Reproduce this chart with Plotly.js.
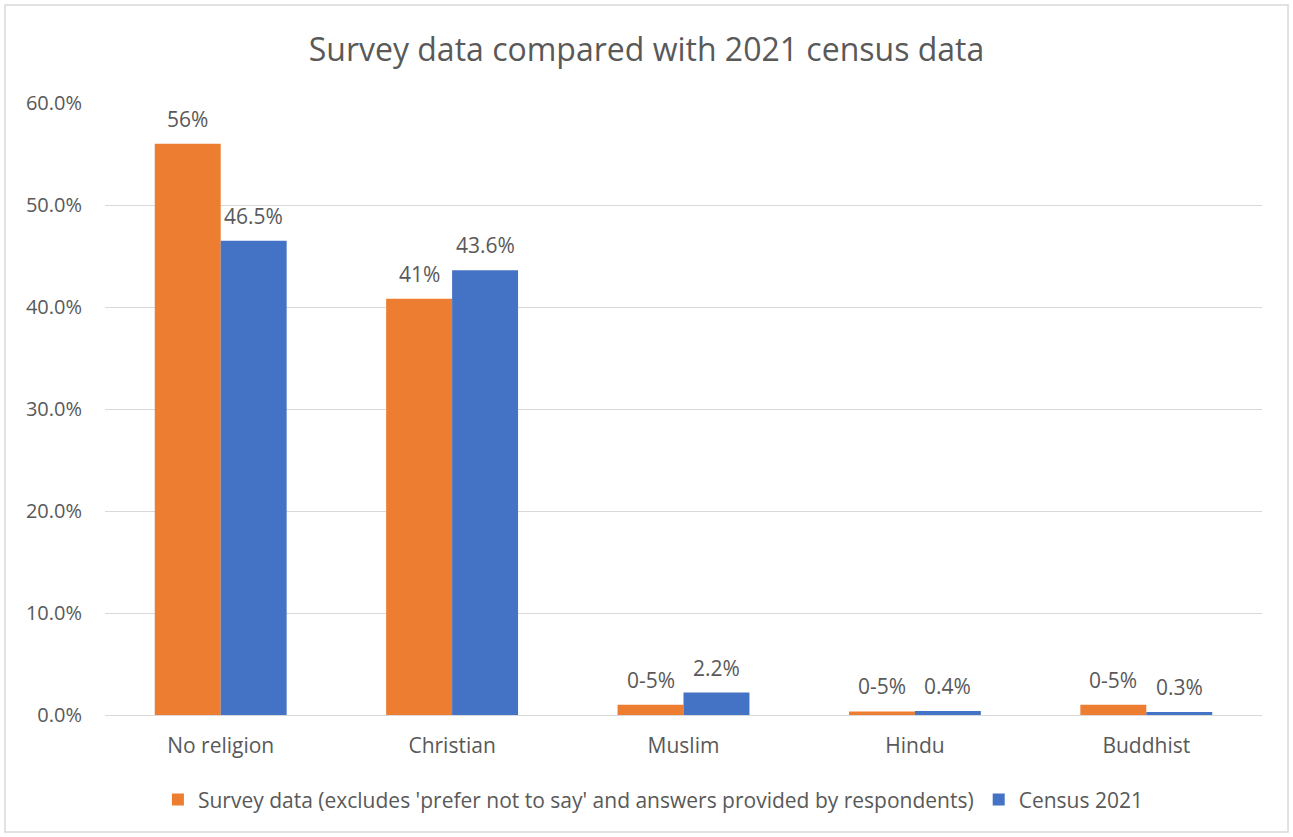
<!DOCTYPE html>
<html><head><meta charset="utf-8">
<script src="https://cdn.plot.ly/plotly-3.0.1.min.js"></script>
<style>html,body{margin:0;padding:0;background:#fff}#chart{width:1293px;height:837px}</style>
</head><body><div id="chart"></div>
<script>
const categories = ["No religion", "Christian", "Muslim", "Hindu", "Buddhist"];
const surveyValues = [56, 40.8, 1.0, 0.35, 1.0];
const surveyLabels = ["56%", "41%", "0-5%", "0-5%", "0-5%"];
const censusValues = [46.5, 43.6, 2.2, 0.4, 0.3];
const censusLabels = ["46.5%", "43.6%", "2.2%", "0.4%", "0.3%"];
const seriesNames = ["Survey data (excludes 'prefer not to say' and answers provided by respondents)", "Census 2021"];
const yTicks = [0, 10, 20, 30, 40, 50, 60];
const yTickText = ["0.0%", "10.0%", "20.0%", "30.0%", "40.0%", "50.0%", "60.0%"];

const FONT = "'Open Sans', sans-serif";
const GREY = "#595959";
const colors = ["#ED7D31", "#4472C4"];

const traces = [
  {type: "bar", x: categories, y: surveyValues, name: seriesNames[0], marker: {color: colors[0]}, hoverinfo: "x+y"},
  {type: "bar", x: categories, y: censusValues, name: seriesNames[1], marker: {color: colors[1]}, hoverinfo: "x+y"}
];

const annotations = [];
[[surveyValues, surveyLabels, -33], [censusValues, censusLabels, 33]].forEach(([vals, labs, dx]) => {
  categories.forEach((c, i) => {
    annotations.push({x: c, y: vals[i], text: labs[i], xref: "x", yref: "y", showarrow: false,
      xshift: dx, yshift: 9, yanchor: "bottom", xanchor: "center",
      font: {family: FONT, size: 21, color: GREY}});
  });
});

const layout = {
  width: 1293, height: 837,
  margin: {l: 105, r: 31, t: 103, b: 122},
  paper_bgcolor: "#fff", plot_bgcolor: "#fff",
  font: {family: FONT, color: GREY},
  title: {text: "Survey data compared with 2021 census data", font: {family: FONT, size: 32, color: GREY},
          x: 0.5, xanchor: "center", y: 0.94, yanchor: "middle"},
  barmode: "group", bargap: 0.43, bargroupgap: 0,
  xaxis: {showline: true, linecolor: "#D9D9D9", linewidth: 1, ticks: "", showgrid: false,
          tickfont: {family: FONT, size: 21, color: GREY}, ticklabelstandoff: 12},
  yaxis: {range: [0, 60], tickvals: yTicks, ticktext: yTickText, showgrid: true, gridcolor: "#D9D9D9",
          gridwidth: 1, zeroline: false, showline: false, ticks: "",
          tickfont: {family: FONT, size: 20, color: GREY}, ticklabelstandoff: 22},
  legend: {orientation: "h", x: 0.474, xanchor: "center", y: -0.105, yanchor: "top",
           font: {family: FONT, size: 21, color: GREY}, itemwidth: 30, traceorder: "normal"},
  annotations: annotations,
  shapes: [{type: "rect", xref: "paper", yref: "paper", x0: -0.0864, x1: 1.0225, y0: -0.191, y1: 1.160,
            line: {color: "#D9D9D9", width: 1.5}, fillcolor: "rgba(0,0,0,0)", layer: "below"}],
  showlegend: true
};

Plotly.newPlot("chart", traces, layout, {displayModeBar: false, staticPlot: true});
</script></body></html>
